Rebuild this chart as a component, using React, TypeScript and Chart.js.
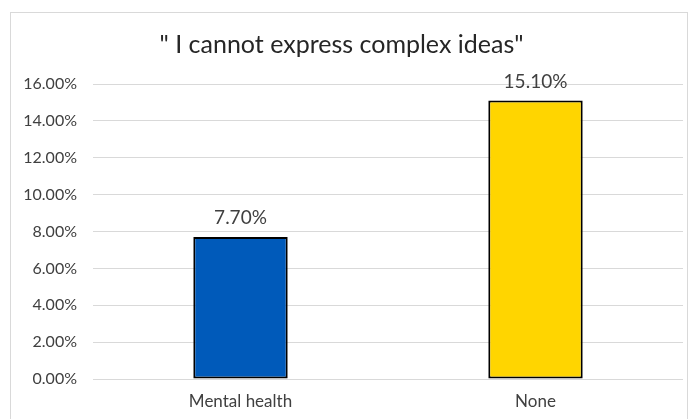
import React, { useEffect, useRef } from "react";
import { Chart, registerables } from "chart.js";

Chart.register(...registerables);

const categories = ["Mental health", "None"];
const values = [7.7, 15.1];
const valueLabels = ["7.70%", "15.10%"];
const barColors = ["#005ABA", "#FFD500"];
const titleText = '" I cannot express complex ideas"';

const FONT = "Lato, 'Open Sans', sans-serif";

const frame = {
  id: "frame",
  beforeDraw(chart: any) {
    const ctx = chart.ctx;
    ctx.save();
    ctx.fillStyle = "#ffffff";
    ctx.fillRect(0, 0, chart.width, chart.height);
    ctx.strokeStyle = "#d9d9d9";
    ctx.lineWidth = 1;
    ctx.strokeRect(10.5, 12.5, 677, 420);
    ctx.restore();
  },
};

const labelsPlugin = {
  id: "valueLabels",
  afterDatasetsDraw(chart: any) {
    const ctx = chart.ctx;
    const meta = chart.getDatasetMeta(0);
    ctx.save();
    ctx.font = `19px ${FONT}`;
    ctx.fillStyle = "#404040";
    ctx.textAlign = "center";
    ctx.textBaseline = "middle";
    meta.data.forEach((el: any, i: number) => {
      ctx.fillText(valueLabels[i], el.x, el.y - 19);
    });
    ctx.restore();
  },
};

export default function App() {
  const ref = useRef<HTMLCanvasElement | null>(null);
  useEffect(() => {
    if (!ref.current) return;
    const chart = new Chart(ref.current, {
      type: "bar",
      data: {
        labels: categories,
        datasets: [
          {
            data: values,
            backgroundColor: barColors,
            borderColor: "#000000",
            borderWidth: 2,
            borderSkipped: false,
            barPercentage: 0.64,
            categoryPercentage: 0.5,
          },
        ],
      },
      options: {
        animation: false,
        responsive: false,
        devicePixelRatio: 1,
        layout: { padding: { left: 0, right: 8, top: 0, bottom: 0 } },
        plugins: {
          legend: { display: false },
          tooltip: { enabled: false },
          title: {
            display: true,
            text: titleText,
            color: "#262626",
            font: { family: FONT, size: 25, weight: "normal" as any },
            padding: { top: 30, bottom: 24 },
          },
        },
        scales: {
          x: {
            grid: { display: false },
            border: { display: false },
            ticks: {
              color: "#404040",
              font: { family: FONT, size: 17 },
              padding: 4,
            },
            afterFit(scale: any) {
              scale.height = 40;
            },
          },
          y: {
            min: 0,
            max: 16,
            ticks: {
              stepSize: 2,
              color: "#404040",
              font: { family: FONT, size: 16 },
              padding: 16,
              callback: (v: any) => Number(v).toFixed(2) + "%",
            },
            grid: { color: "#d9d9d9", lineWidth: 1, drawTicks: false },
            border: { display: false },
            afterFit(scale: any) {
              scale.width = 93;
            },
          },
        },
      },
      plugins: [frame, labelsPlugin],
    });
    return () => chart.destroy();
  }, []);
  return (
    <div style={{ position: "fixed", left: 0, top: 0, width: 691, height: 419 }}>
      <canvas ref={ref} width={691} height={419} style={{ width: 691, height: 419 }} />
    </div>
  );
}
